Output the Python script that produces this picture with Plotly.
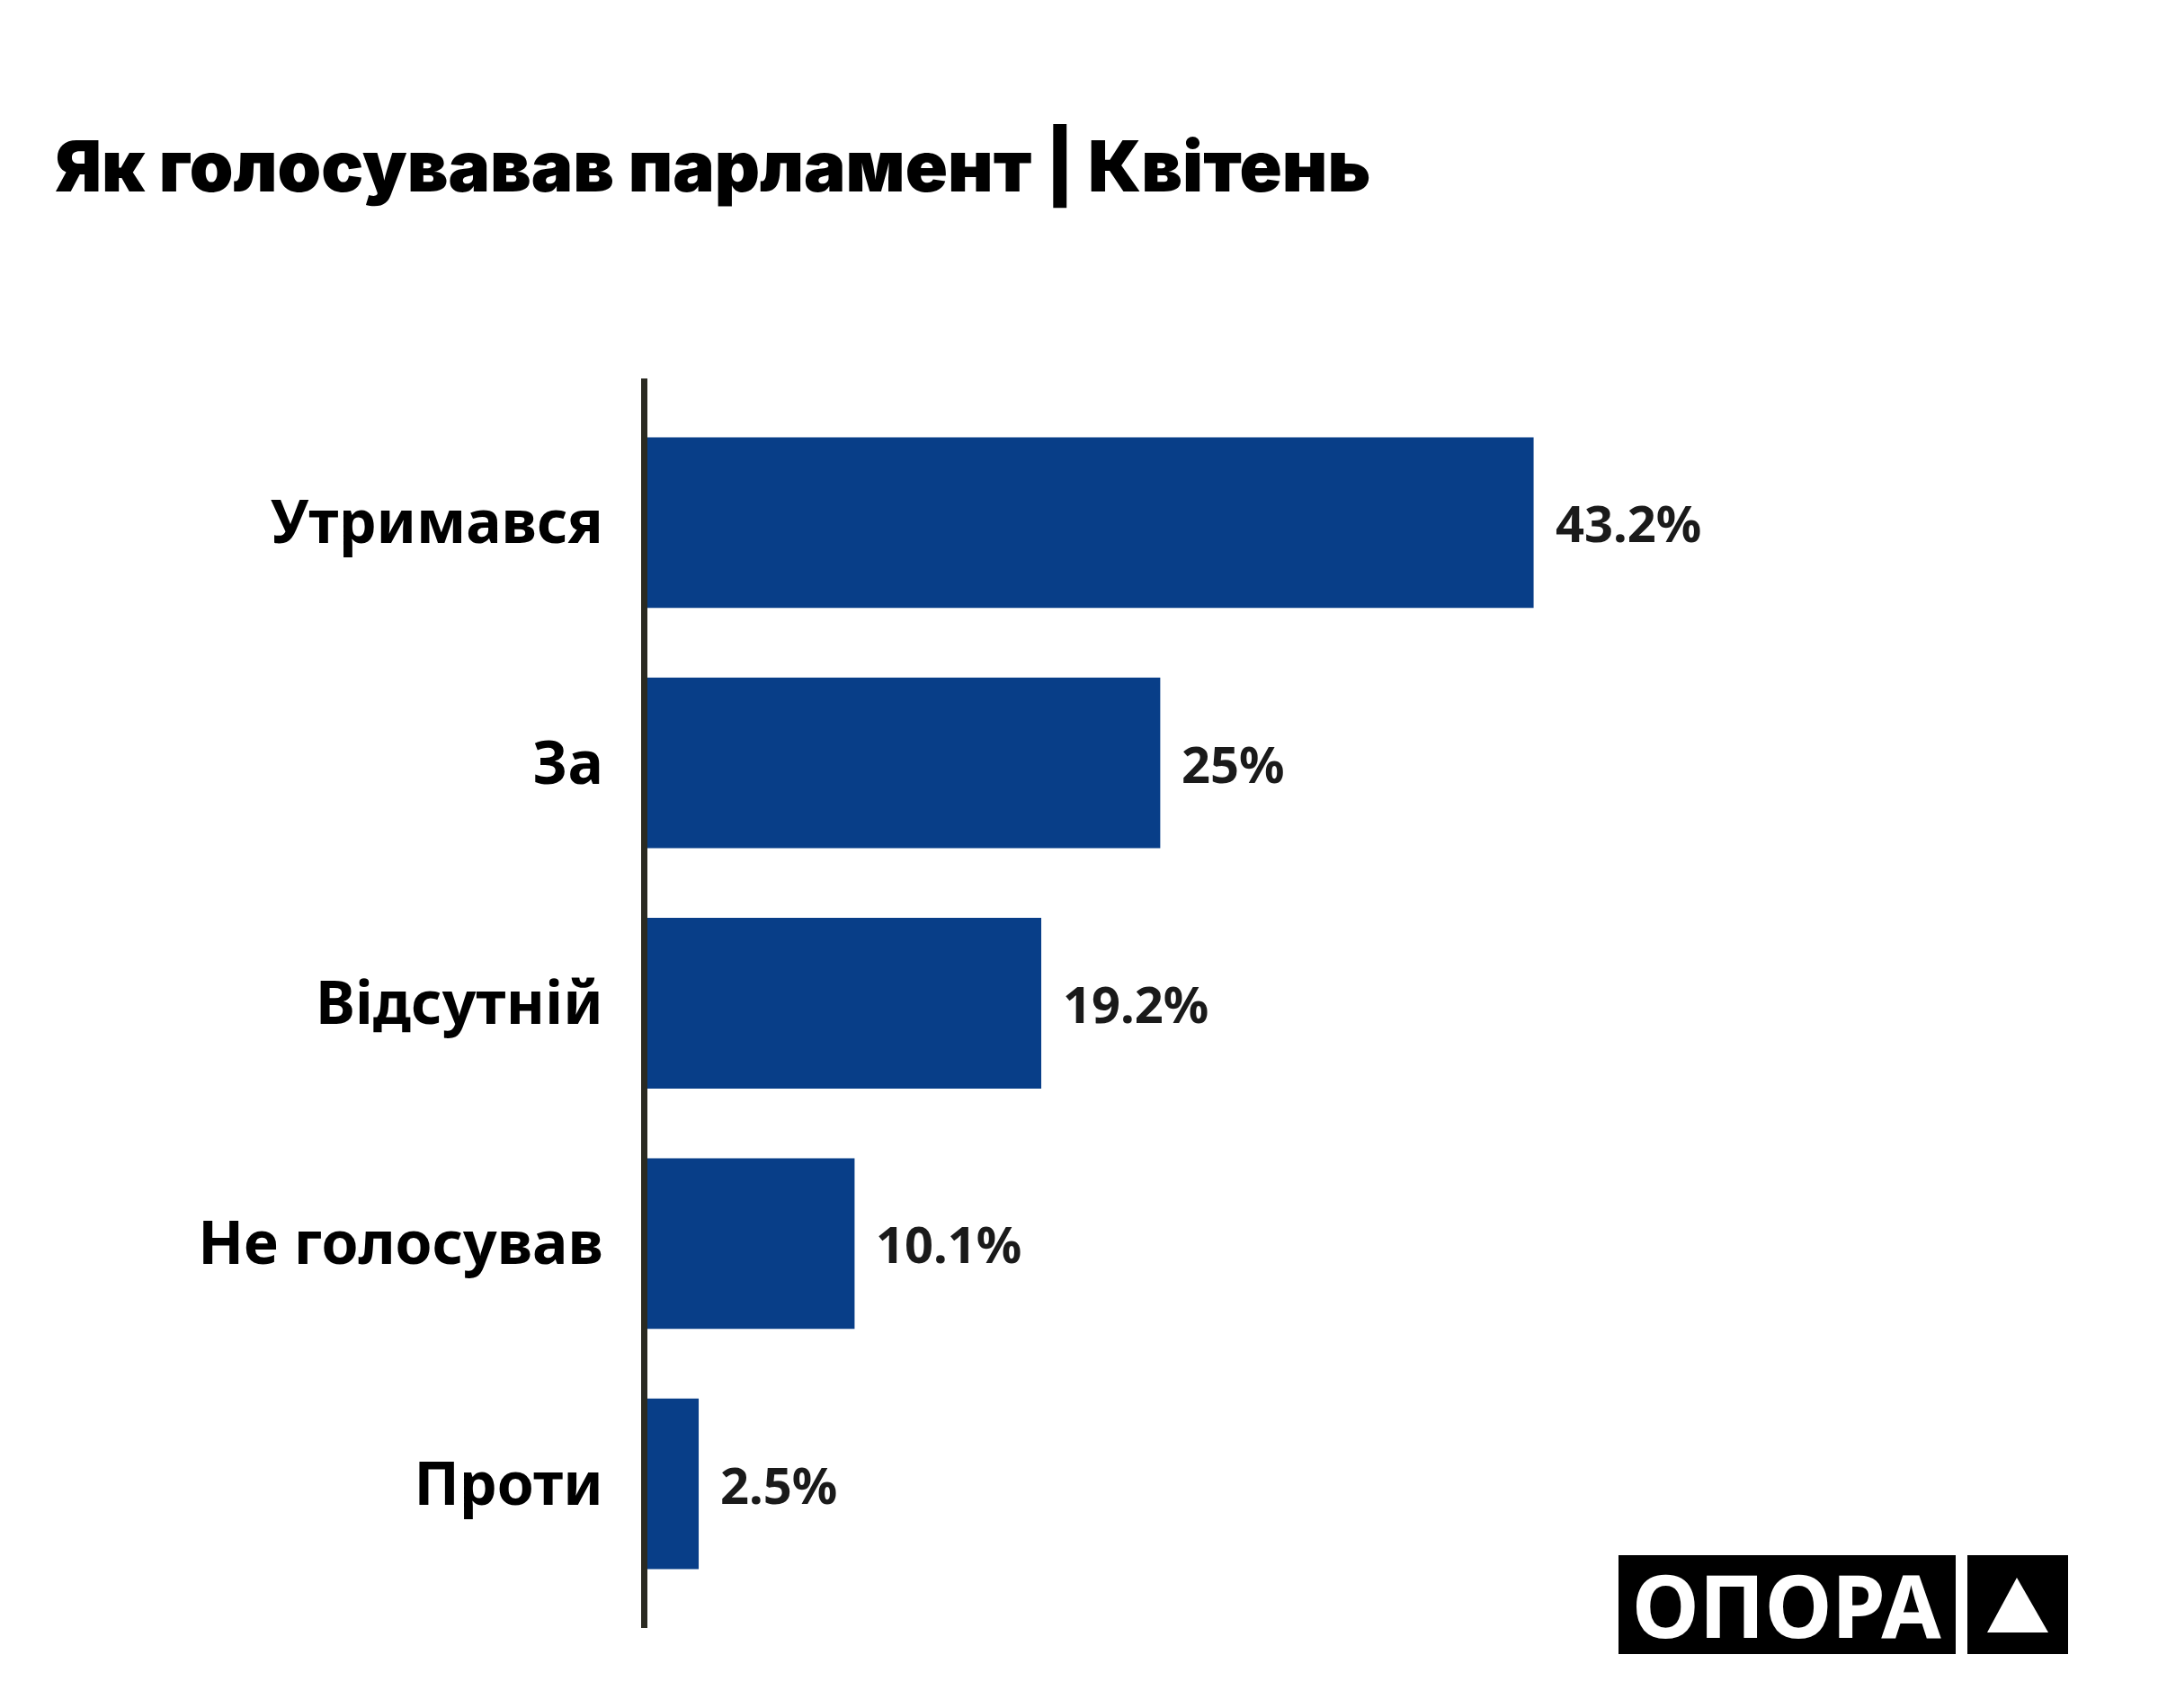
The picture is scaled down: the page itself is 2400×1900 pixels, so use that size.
import plotly.graph_objects as go

categories = ["Утримався", "За", "Відсутній", "Не голосував", "Проти"]
values = [43.2, 25, 19.2, 10.1, 2.5]
value_labels = ["43.2%", "25%", "19.2%", "10.1%", "2.5%"]
title_text = "Як голосувавав парламент | Квітень"
logo_text = "ОПОРА"

W, H = 2400, 1900
OFF = 8  # page body margin offset
L, R, T, B = 720 - OFF, 83 + OFF, 421 - OFF, 89 + OFF
PW, PH = W - L - R, H - T - B

def px(x):
    return (x - OFF - L) / PW

def py(y):
    return (H - B - (y - OFF)) / PH

BAR = "#083e88"

fig = go.Figure()
fig.add_trace(go.Bar(
    x=values, y=categories, orientation="h",
    marker=dict(color=BAR, line=dict(width=0)),
    hoverinfo="skip",
))

ann = []
for c, v, t in zip(categories, values, value_labels):
    ann.append(dict(x=v, y=c, xref="x", yref="y", text=t, showarrow=False,
                    xanchor="left", yanchor="middle", xshift=22,
                    font=dict(family="Noto Sans", size=56, color="#1a1a1a", weight="bold")))

ann.append(dict(x=px(1987), y=py(1784), xref="paper", yref="paper", text=logo_text,
                showarrow=False, xanchor="center", yanchor="middle",
                font=dict(family="Noto Sans", size=96, color="white", weight="bold")))

shapes = [
    dict(type="rect", xref="paper", yref="paper", x0=px(1800), x1=px(2175),
         y0=py(1840), y1=py(1730), fillcolor="black", line=dict(width=0), layer="above"),
    dict(type="rect", xref="paper", yref="paper", x0=px(2188), x1=px(2300),
         y0=py(1840), y1=py(1730), fillcolor="black", line=dict(width=0), layer="above"),
    dict(type="path", xref="paper", yref="paper",
         path=f"M {px(2243)},{py(1755)} L {px(2278)},{py(1816)} L {px(2210)},{py(1816)} Z",
         fillcolor="white", line=dict(width=0), layer="above"),
]

fig.update_layout(
    width=W, height=H,
    margin=dict(l=L, r=R, t=T, b=B, pad=0),
    paper_bgcolor="white", plot_bgcolor="white",
    bargap=0.29,
    showlegend=False,
    title=dict(text=title_text, x=(61 - OFF) / W, xref="container", xanchor="left",
               y=1 - (186 - OFF) / H, yref="container", yanchor="middle",
               font=dict(family="Inter", size=78, color="black", weight=900)),
    annotations=ann,
    shapes=shapes,
    xaxis=dict(range=[0, 70], visible=False, showgrid=False, zeroline=False),
    yaxis=dict(
        type="category", categoryorder="array", categoryarray=categories,
        range=[4.6, -0.6], showgrid=False, zeroline=False,
        showline=True, linecolor="#2a2a22", linewidth=7,
        ticks="", ticklabelstandoff=29,
        tickfont=dict(family="Noto Sans", size=66, color="black", weight="bold"),
    ),
)

fig.write_html("out.html")
